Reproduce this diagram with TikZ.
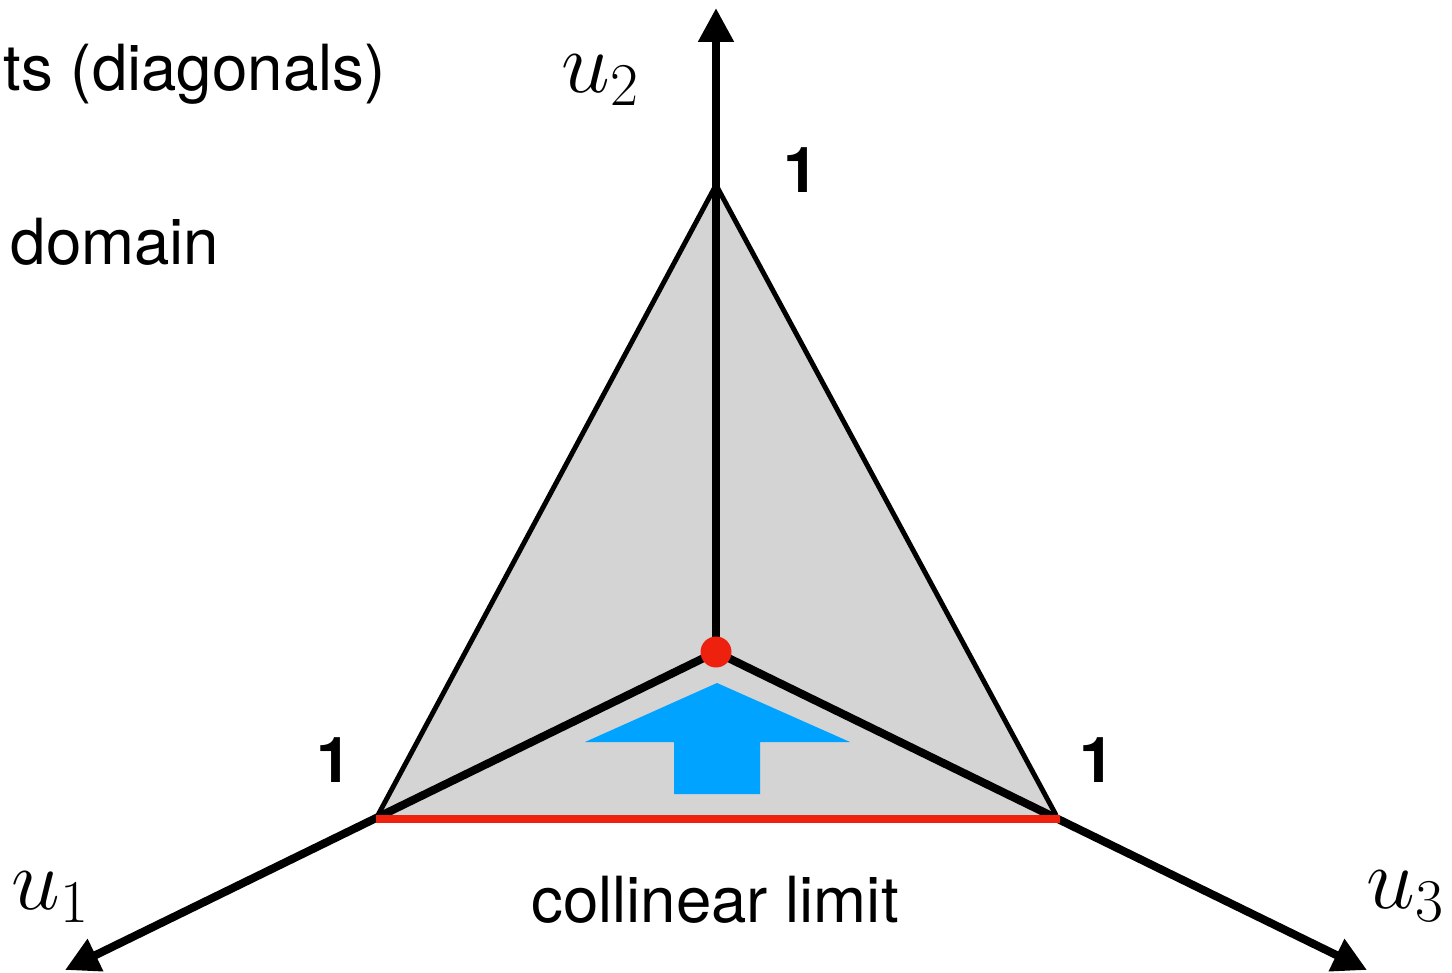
\documentclass[tikz,border=0pt]{standalone}
\usepackage{fontspec}
\setmainfont{TeX Gyre Heros}
\usepackage{xcolor}
\usepackage{tikz}
\usetikzlibrary{arrows.meta,positioning}

\definecolor{domaingray}{RGB}{212,212,212}
\definecolor{limitred}{RGB}{237,33,14}
\definecolor{flowblue}{RGB}{0,163,255}

\begin{document}
\begin{tikzpicture}[
    axisarrow/.style={line width=2.3pt, -{Triangle[length=3.4mm, width=3.4mm]}},
    edge/.style={line width=1.4pt, line join=miter},
    limit/.style={line width=2pt, draw=limitred},
    onelbl/.style={font=\fontsize{18}{22}\selectfont\bfseries, inner sep=0pt},
    ulbl/.style={font=\fontsize{24}{28}\selectfont, inner sep=0pt},
    txt/.style={font=\fontsize{18.1}{22}\selectfont, inner sep=0pt}
]
\useasboundingbox (0,0) rectangle (14.52,9.72);

% Origin, vertices and axis tips
\coordinate (origin) at (7.16, 3.20);
\coordinate (top) at (7.16, 7.87);
\coordinate (left) at (3.78, 1.57);
\coordinate (right) at (10.56, 1.57);
\coordinate (u2tip) at (7.16, 9.64);
\coordinate (u1tip) at (0.65, 0.02);
\coordinate (u3tip) at (13.67, 0.02);
\coordinate (limitleft) at (3.76, 1.53);
\coordinate (limitright) at (10.60, 1.53);

% Domain
\fill[domaingray] (top) -- (left) -- (right) -- cycle;
\draw[edge] (left) -- (top) -- (right);

% Axes
\draw[axisarrow] (origin) -- (u2tip);
\draw[axisarrow] (origin) -- (u1tip);
\draw[axisarrow] (origin) -- (u3tip);

% Collinear limit
\draw[limit] (limitleft) -- (limitright);

% Flow arrow
\fill[flowblue] (7.17, 2.89) -- (8.50, 2.30) -- (7.60, 2.30) -- (7.60, 1.78)
    -- (6.74, 1.78) -- (6.74, 2.30) -- (5.85, 2.30) -- cycle;

% Symmetric point
\fill[limitred] (origin) circle (0.155);

% Labels
\node[onelbl] (onetop) at (8.01, 8.02) {1};
\node[onelbl] (oneleft) at (3.34, 2.12) {1};
\node[onelbl] (oneright) at (10.97, 2.12) {1};
\node[ulbl] (u2lbl) at (6.01, 8.92) {$u_2$};
\node[ulbl] (u1lbl) at (0.51, 0.75) {$u_1$};
\node[ulbl] (u3lbl) at (14.06, 0.76) {$u_3$};
\node[txt, anchor=base] (collinear) at (7.15, 0.50) {collinear limit};
\node[txt, anchor=base west] (domain) at (0.10, 7.07) {domain};
\node[txt, anchor=base west] (diagonals) at (0.03, 8.81) {ts (diagonals)};

\end{tikzpicture}
\end{document}
